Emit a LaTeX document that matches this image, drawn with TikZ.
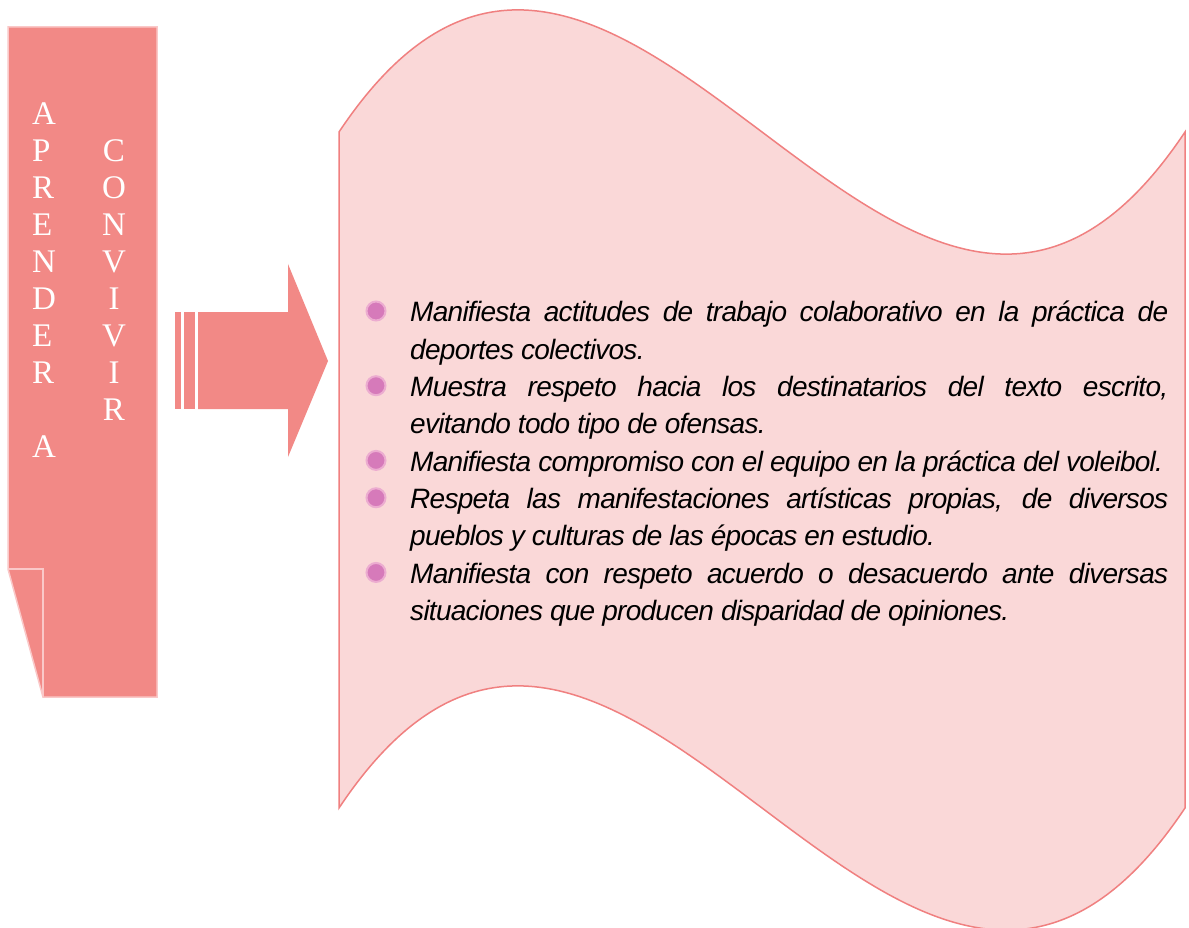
\documentclass[tikz,border=0pt]{standalone}
\usepackage{fontspec}
\setmainfont{Liberation Serif}
\newfontfamily\bodyfont[LetterSpace=-2.6]{Liberation Sans}
\definecolor{salmon}{RGB}{242,137,134}
\definecolor{boxedge}{RGB}{250,200,200}
\definecolor{wavefill}{RGB}{250,216,216}
\definecolor{waveedge}{RGB}{240,128,128}
\definecolor{bulin}{RGB}{214,122,186}
\definecolor{bulout}{RGB}{236,172,208}
\begin{document}
\begin{tikzpicture}[x=1pt,y=-1pt,
  letter/.style={text=white,font=\fontsize{33}{33}\selectfont,inner sep=0pt},
  lcol/.style={letter,anchor=base west},
  rcol/.style={letter,anchor=base},
  bline/.style={anchor=base west,inner sep=0pt,font=\bodyfont\itshape\fontsize{28}{37}\selectfont},
  bullet/.style={circle,minimum size=19pt,inner sep=0pt,fill=bulin,draw=bulout,line width=2pt}]
\useasboundingbox (0,0) rectangle (1189,928);
\fill[white] (0,0) rectangle (1189,928);

% left box
\path[fill=salmon,draw=boxedge,line width=1.5pt,line join=miter]
  (8,27) -- (157,27) -- (157,697) -- (43,697) -- (8,569) -- cycle;
\draw[boxedge,line width=1.5pt] (8,569) -- (43,569) -- (43,697);

% letters
\foreach \c [count=\i from 0] in {A,P,R,E,N,D,E,R}
  \node[lcol] (L\i) at (32,125+36.9*\i) {\c};
\node[lcol] (L9) at (32,125+36.9*9) {A};
\foreach \c [count=\i from 1] in {C,O,N,V,I,V,I,R}
  \node[rcol] (R\i) at (114,125+36.9*\i) {\c};

% block arrow
\fill[salmon] (175,312) rectangle (181,409);
\fill[salmon] (184,312) rectangle (195,409);
\fill[salmon] (198,312) -- (288,312) -- (288,264) -- (328,361) -- (288,457) -- (288,409) -- (198,409) -- cycle;

% wave
\path[fill=wavefill,draw=waveedge,line width=1.5pt]
  (339,132) .. controls (621,-291) and (903,555) .. (1185,132)
  -- (1185,808) .. controls (903,1231) and (621,385) .. (339,808) -- cycle;

% bullets
\node[bullet] (b1) at (376,311) {};
\node[bullet] (b2) at (376,385.7) {};
\node[bullet] (b3) at (376,460.4) {};
\node[bullet] (b4) at (376,497.75) {};
\node[bullet] (b5) at (376,572.45) {};

% text lines
\node[bline] (t1) at (410,321.7) {\makebox[758pt][s]{Manifiesta actitudes de trabajo colaborativo en la práctica de}};
\node[bline] (t2) at (410,359.05) {deportes colectivos.};
\node[bline] (t3) at (410,396.4) {\makebox[758pt][s]{Muestra respeto hacia los destinatarios del texto escrito,}};
\node[bline] (t4) at (410,433.75) {evitando todo tipo de ofensas.};
\node[bline] (t5) at (410,471.1) {Manifiesta compromiso con el equipo en la práctica del voleibol.};
\node[bline] (t6) at (410,508.45) {\makebox[758pt][s]{Respeta las manifestaciones artísticas propias, de diversos}};
\node[bline] (t7) at (410,545.8) {pueblos y culturas de las épocas en estudio.};
\node[bline] (t8) at (410,583.15) {\makebox[758pt][s]{Manifiesta con respeto acuerdo o desacuerdo ante diversas}};
\node[bline] (t9) at (410,620.5) {situaciones que producen disparidad de opiniones.};
\end{tikzpicture}
\end{document}
